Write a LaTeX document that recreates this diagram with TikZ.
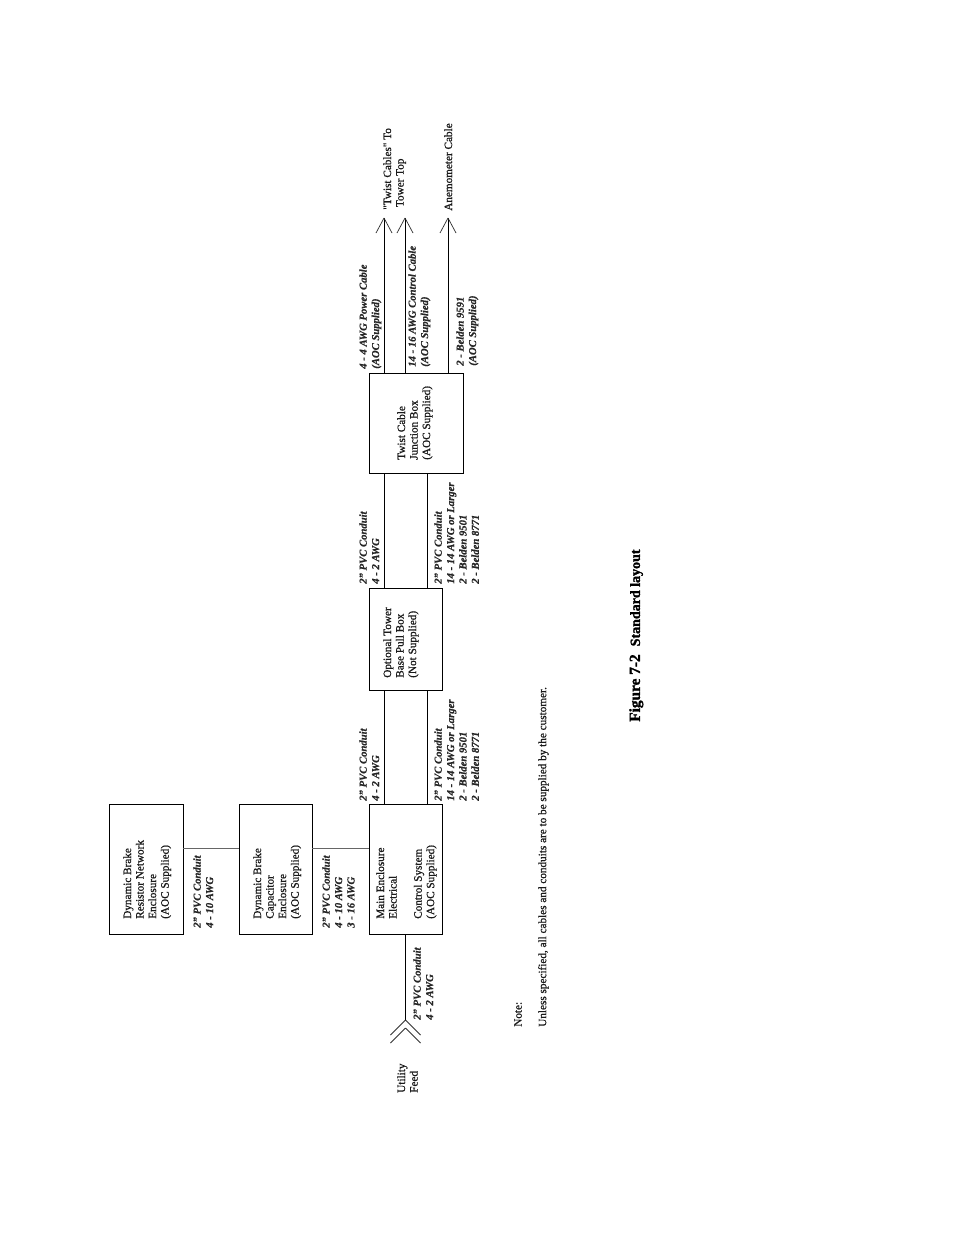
\documentclass[tikz,border=0pt]{standalone}
\usepackage{fontspec}
\setmainfont{Liberation Serif}[FakeBold=0.5]
\newfontfamily\scanfont{Liberation Serif}[FakeBold=0.9]
\newfontfamily\capfont{Liberation Serif}[Scale=1,BoldFont={Liberation Serif Bold},BoldFeatures={FakeBold=1.6}]
\newcommand\pbox[5]{\node[boxst,minimum width={(#4-#2)*0.75pt},minimum height={(#5-#3)*0.75pt}] (#1) at ({(#2+#4)/2},{(#3+#5)/2}) {};}
\begin{document}
\begin{tikzpicture}[x=0.75pt,y=-0.75pt,
  boxst/.style={draw=black,line width=0.7pt,inner sep=0pt,fill=none},
  lab/.style={rotate=90,anchor=north west,inner sep=0pt,align=left,font=\fontsize{8.4}{9.4}\selectfont\scanfont,text=black!90},
  ital/.style={rotate=90,anchor=north west,inner sep=0pt,align=left,font=\fontsize{8}{9.3}\selectfont\itshape\bfseries,text=black!85},
  wire/.style={draw=black,line width=0.7pt},
  thin wire/.style={draw=black!60,line width=0.6pt},
  chev/.style={draw=black!80,line width=0.55pt}]
\useasboundingbox (0,0) rectangle (954,1235);
\fill[white] (0,0) rectangle (954,1235);
\pbox{ba}{109}{804}{183}{934}
\pbox{bb}{239}{804}{312}{934}
\pbox{bc}{369}{804}{442}{934}
\pbox{bd}{369}{588}{442}{690}
\pbox{be}{369}{373}{463}{473}
\coordinate (ca) at (384,0);
\coordinate (cb) at (427,0);
\coordinate (cd) at (448,0);
\coordinate (ce) at (0,848);
\coordinate (ua) at (405.5,1020);
\coordinate (ta) at (384,218);
\coordinate (tb) at (405,218);
\coordinate (tc) at (448,218);
\draw[thin wire] (ba.east |- ce) -- (bb.west |- ce);
\draw[thin wire] (bb.east |- ce) -- (bc.west |- ce);
\draw[wire] (ca |- bc.north) -- (ca |- bd.south);
\draw[wire] (cb |- bc.north) -- (cb |- bd.south);
\draw[wire] (ca |- bd.north) -- (ca |- be.south);
\draw[wire] (cb |- bd.north) -- (cb |- be.south);
\draw[wire] (ua |- bc.south) -- (ua);
\draw[wire] (ca |- be.north) -- (ta);
\draw[wire] (tb |- be.north) -- (tb);
\draw[wire] (cd |- be.north) -- (tc);
\draw[chev] (ua) -- +(-15,15) (ua) -- +(15,15);
\draw[chev] (ua) ++(0,8) -- +(-15,15) (ua) ++(0,8) -- +(15,15);
\foreach \t in {ta,tb,tc}{\draw[chev] (\t) -- +(-8,15) (\t) -- +(8,15);}
% box labels
\node[lab] (la) at (123,919) {Dynamic Brake\\Resistor Network\\Enclosure\\(AOC Supplied)};
\node[lab] (lb) at (253,919) {Dynamic Brake\\Capacitor\\Enclosure\\(AOC Supplied)};
\node[lab] (lc) at (376,919) {Main Enclosure\\Electrical\\\mbox{}\\Control System\\(AOC Supplied)};
\node[lab] (ld) at (383,678) {Optional Tower\\Base Pull Box\\(Not Supplied)};
\node[lab] (le) at (397,460) {Twist Cable\\Junction Box\\(AOC Supplied)};
\node[lab] (lf) at (397,1093) {Utility\\Feed};
\node[lab] (lg) at (383,210) {"Twist Cables" To\\\hspace*{2pt}Tower Top};
\node[lab] (lh) at (444,211) {Anemometer Cable};
% cable labels
\node[ital] (ia) at (193,928) {2" PVC Conduit\\4 - 10 AWG};
\node[ital] (ib) at (322,928) {2" PVC Conduit\\4 - 10 AWG\\3 - 16 AWG};
\node[ital] (ic) at (413,1020) {2" PVC Conduit\\4 - 2 AWG};
\node[ital] (id) at (359,801) {2" PVC Conduit\\4 - 2 AWG};
\node[ital] (ie) at (434,801) {2" PVC Conduit\\14 - 14 AWG or Larger\\2 - Belden 9501\\2 - Belden 8771};
\node[ital] (if) at (359,584) {2" PVC Conduit\\4 - 2 AWG};
\node[ital] (ig) at (434,584) {2" PVC Conduit\\14 - 14 AWG or Larger\\2 - Belden 9501\\2 - Belden 8771};
\node[ital] (ih) at (359,369) {4 - 4 AWG Power Cable\\(AOC Supplied)};
\node[ital] (ii) at (408,367) {14 - 16 AWG Control Cable\\(AOC Supplied)};
\node[ital] (ij) at (456,366) {2 - Belden 9591\\(AOC Supplied)};
% notes
\node[lab] (na) at (514,1027) {Note:};
\node[lab] (nb) at (538,1027) {Unless specified, all cables and conduits are to be supplied by the customer.};
\node[lab,font=\capfont\bfseries,text=black] (cap) at (629,722) {\fontsize{11.5}{14}\selectfont Figure 7-2\hspace{6pt}\fontsize{10.5}{14}\selectfont Standard layout};
\end{tikzpicture}
\end{document}
